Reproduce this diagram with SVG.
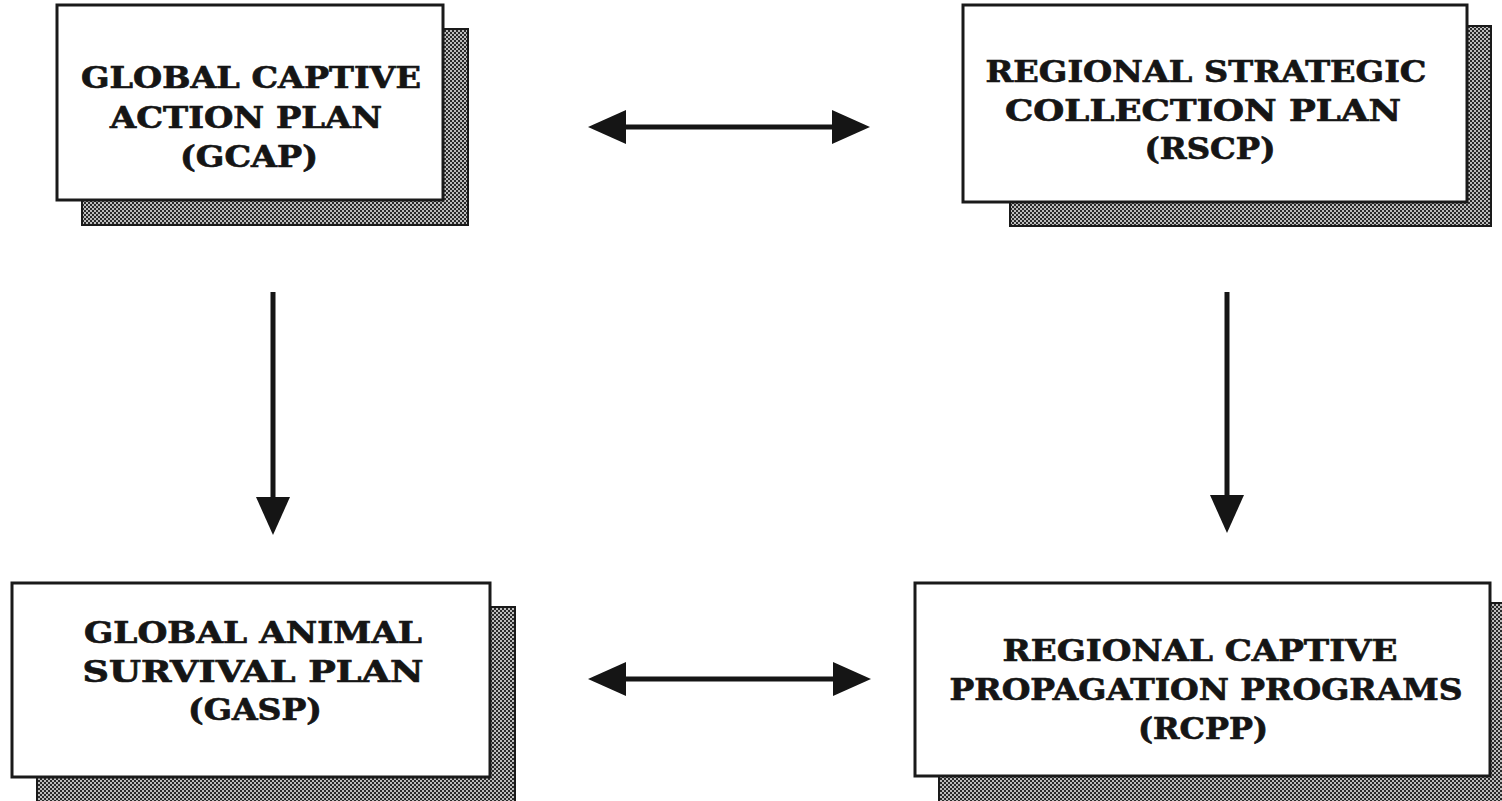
<svg xmlns="http://www.w3.org/2000/svg" width="1502" height="801" viewBox="0 0 1502 801">
  <style>
    .box { fill: #ffffff; stroke: #1a1a1a; stroke-width: 3; }
    .shadow { fill: url(#dither); stroke: #1a1a1a; stroke-width: 2; }
    .label { font-family: "DejaVu Serif", "Liberation Serif", serif; font-weight: bold; font-size: 29px; fill: #151515; stroke: #151515; stroke-width: 0.7; text-anchor: middle; }
    .conn { stroke: #151515; stroke-width: 5; fill: none; }
  </style>
  <defs>
    <pattern id="dither" width="4" height="4" patternUnits="userSpaceOnUse">
      <rect width="4" height="4" fill="#2a2a2a"/>
      <rect x="0" y="0" width="2" height="2" fill="#bdbdbd"/>
      <rect x="2" y="2" width="2" height="2" fill="#bdbdbd"/>
    </pattern>
    <marker id="head" markerUnits="userSpaceOnUse" markerWidth="40" markerHeight="36" refX="1" refY="17" orient="auto-start-reverse">
      <path d="M0,0 L38,17 L0,34 Z" fill="#151515"/>
    </marker>
  </defs>
  <rect width="1502" height="801" fill="#ffffff"/>

  <g id="gcap">
    <rect class="shadow" x="82" y="29" width="386" height="196"/>
    <rect class="box" x="57" y="5" width="386" height="195"/>
    <text class="label" x="251" y="88" textLength="340" lengthAdjust="spacingAndGlyphs">GLOBAL CAPTIVE</text>
    <text class="label" x="246" y="128" textLength="272" lengthAdjust="spacingAndGlyphs">ACTION PLAN</text>
    <text class="label" x="249" y="167" textLength="138" lengthAdjust="spacingAndGlyphs">(GCAP)</text>
  </g>

  <g id="rscp">
    <rect class="shadow" x="1010" y="26" width="481" height="200"/>
    <rect class="box" x="963" y="5" width="504" height="197"/>
    <text class="label" x="1206" y="82" textLength="441" lengthAdjust="spacingAndGlyphs">REGIONAL STRATEGIC</text>
    <text class="label" x="1203" y="121" textLength="396" lengthAdjust="spacingAndGlyphs">COLLECTION  PLAN</text>
    <text class="label" x="1210" y="159" textLength="131" lengthAdjust="spacingAndGlyphs">(RSCP)</text>
  </g>

  <g id="gasp">
    <rect class="shadow" x="37" y="607" width="478" height="196"/>
    <rect class="box" x="12" y="583" width="478" height="194"/>
    <text class="label" x="253" y="643" textLength="338" lengthAdjust="spacingAndGlyphs">GLOBAL  ANIMAL</text>
    <text class="label" x="253" y="682" textLength="341" lengthAdjust="spacingAndGlyphs">SURVIVAL PLAN</text>
    <text class="label" x="255" y="720" textLength="134" lengthAdjust="spacingAndGlyphs">(GASP)</text>
  </g>

  <g id="rcpp">
    <rect class="shadow" x="939" y="603" width="580" height="200"/>
    <rect class="box" x="915" y="583" width="575" height="193"/>
    <text class="label" x="1200" y="661" textLength="395" lengthAdjust="spacingAndGlyphs">REGIONAL CAPTIVE</text>
    <text class="label" x="1206" y="700" textLength="513" lengthAdjust="spacingAndGlyphs">PROPAGATION PROGRAMS</text>
    <text class="label" x="1203" y="739" textLength="130" lengthAdjust="spacingAndGlyphs">(RCPP)</text>
  </g>

  <g id="connectors">
    <line class="conn" x1="625" y1="127" x2="833" y2="127" marker-start="url(#head)" marker-end="url(#head)"/>
    <line class="conn" x1="625" y1="679" x2="834" y2="679" marker-start="url(#head)" marker-end="url(#head)"/>
    <line class="conn" x1="273" y1="292" x2="273" y2="498" stroke-width="6" marker-end="url(#head)"/>
    <line class="conn" x1="1227" y1="292" x2="1227" y2="496" stroke-width="6" marker-end="url(#head)"/>
  </g>
</svg>
